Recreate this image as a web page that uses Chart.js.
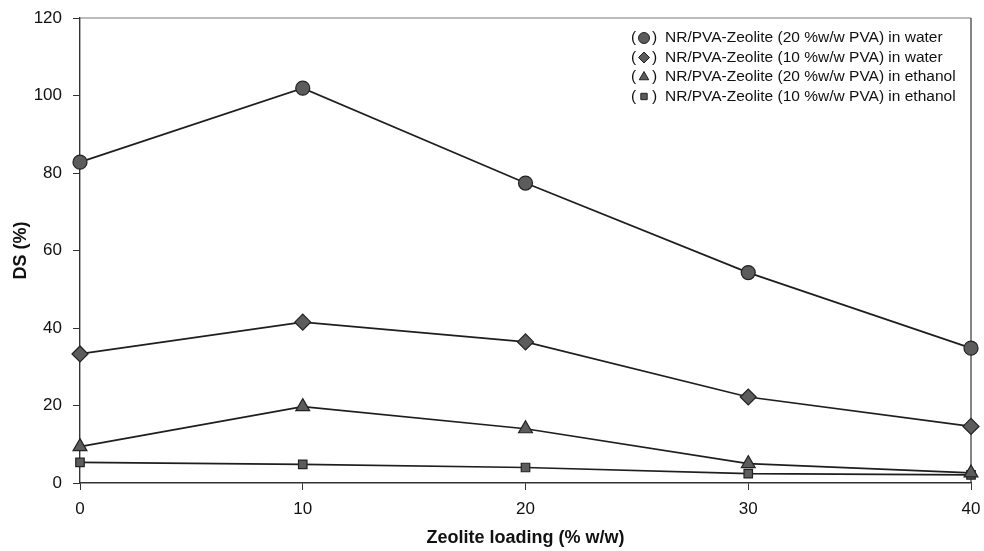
<html>
<head>
<style>
body { margin: 0; background: #fff; }
div.chart-box { width: 984px; height: 551px; }
</style>
<script src="https://cdn.jsdelivr.net/npm/chart.js"></script>
</head>
<body>
<div class="chart-box"><canvas id="dsChart"></canvas></div>
<script>
// zeolite loading (% w/w)
const loading = [0, 10, 20, 30, 40];

// degree of swelling DS (%)
const pva20Water   = [82.8, 101.9, 77.4, 54.3, 34.8];
const pva10Water   = [33.3, 41.5, 36.4, 22.2, 14.6];
const pva20Ethanol = [9.4, 19.7, 14.0, 5.0, 2.6];
const pva10Ethanol = [5.3, 4.8, 4.0, 2.4, 2.1];

const seriesNames = [
  'NR/PVA-Zeolite (20 %w/w PVA) in water',
  'NR/PVA-Zeolite (10 %w/w PVA) in water',
  'NR/PVA-Zeolite (20 %w/w PVA) in ethanol',
  'NR/PVA-Zeolite (10 %w/w PVA) in ethanol'
];
const markers = ['circle', 'rectRot', 'triangle', 'rect'];
const markerSize = [7, 8, 8, 6];

const lineColor = '#1e1e1e';
const markerFill = '#5c5c5c';

function makeSet(i, values) {
  return {
    label: seriesNames[i],
    data: loading.map((x, k) => ({ x: x, y: values[k] })),
    borderColor: lineColor,
    borderWidth: 1.7,
    backgroundColor: markerFill,
    pointStyle: markers[i],
    pointRadius: markerSize[i],
    pointBorderColor: '#222',
    pointBorderWidth: 1.2,
    pointBackgroundColor: markerFill,
    tension: 0,
    clip: false
  };
}

// legend drawn inside the plot, "( marker ) text"
const boxLegend = {
  id: 'boxLegend',
  afterDraw(chart) {
    const ctx = chart.ctx;
    ctx.save();
    ctx.font = '15.5px "Liberation Sans", Arial, sans-serif';
    ctx.textBaseline = 'middle';
    ctx.textAlign = 'left';
    chart.data.datasets.forEach((ds, i) => {
      const y = 38 + i * 19.5;
      ctx.fillStyle = '#111';
      ctx.fillText('(', 631, y);
      ctx.fillText(')', 652, y);
      ctx.fillStyle = markerFill;
      ctx.strokeStyle = '#222';
      ctx.lineWidth = 1;
      Chart.helpers.drawPoint(ctx, { pointStyle: ds.pointStyle, radius: ds.pointStyle == 'rect' ? 4.5 : 5.5, borderWidth: 1 }, 644, y);
      ctx.fillStyle = '#111';
      ctx.fillText(ds.label, 665, y);
    });
    ctx.restore();
  }
};

// box round the plot
const plotFrame = {
  id: 'plotFrame',
  beforeDatasetsDraw(chart) {
    const a = chart.chartArea;
    const ctx = chart.ctx;
    ctx.save();
    ctx.strokeStyle = '#7a7a7a';
    ctx.lineWidth = 1.2;
    ctx.beginPath();
    ctx.moveTo(a.left, a.top);
    ctx.lineTo(a.right, a.top);
    ctx.stroke();
    ctx.strokeStyle = '#333';
    ctx.beginPath();
    ctx.moveTo(a.right, a.top);
    ctx.lineTo(a.right, a.bottom);
    ctx.stroke();
    ctx.restore();
  }
};

const tickFont = { family: '"Liberation Sans", Arial, sans-serif', size: 17 };
const titleFont = { family: '"Liberation Sans", Arial, sans-serif', size: 18, weight: 'bold' };

new Chart(document.getElementById('dsChart'), {
  type: 'line',
  data: {
    datasets: [
      makeSet(0, pva20Water),
      makeSet(1, pva10Water),
      makeSet(2, pva20Ethanol),
      makeSet(3, pva10Ethanol)
    ]
  },
  options: {
    responsive: true,
    maintainAspectRatio: false,
    animation: false,
    layout: { padding: { top: 18, right: 13, left: 0, bottom: 0 } },
    plugins: { legend: { display: false }, tooltip: { enabled: false } },
    scales: {
      x: {
        type: 'linear',
        min: 0, max: 40,
        ticks: { stepSize: 10, color: '#111', font: tickFont, padding: 9 },
        grid: { drawOnChartArea: false, tickLength: 7, color: '#333' },
        border: { color: '#333', width: 1.4 },
        title: { display: true, text: 'Zeolite loading (% w/w)', color: '#111', font: titleFont, padding: { top: 0, bottom: 2 } },
        afterFit(scale) {
          scale.height = 68;
          scale.paddingLeft = 0;
          scale.paddingRight = 0;
        }
      },
      y: {
        min: 0, max: 120,
        ticks: { stepSize: 20, color: '#111', font: tickFont, padding: 11 },
        grid: { drawOnChartArea: false, tickLength: 7, color: '#333' },
        border: { color: '#333', width: 1.4 },
        title: { display: true, text: 'DS (%)', color: '#111', font: titleFont, padding: 10 },
        afterFit(scale) {
          scale.width = 80;
          scale.paddingTop = 0;
          scale.paddingBottom = 0;
        }
      }
    }
  },
  plugins: [plotFrame, boxLegend]
});
</script>
</body>
</html>
